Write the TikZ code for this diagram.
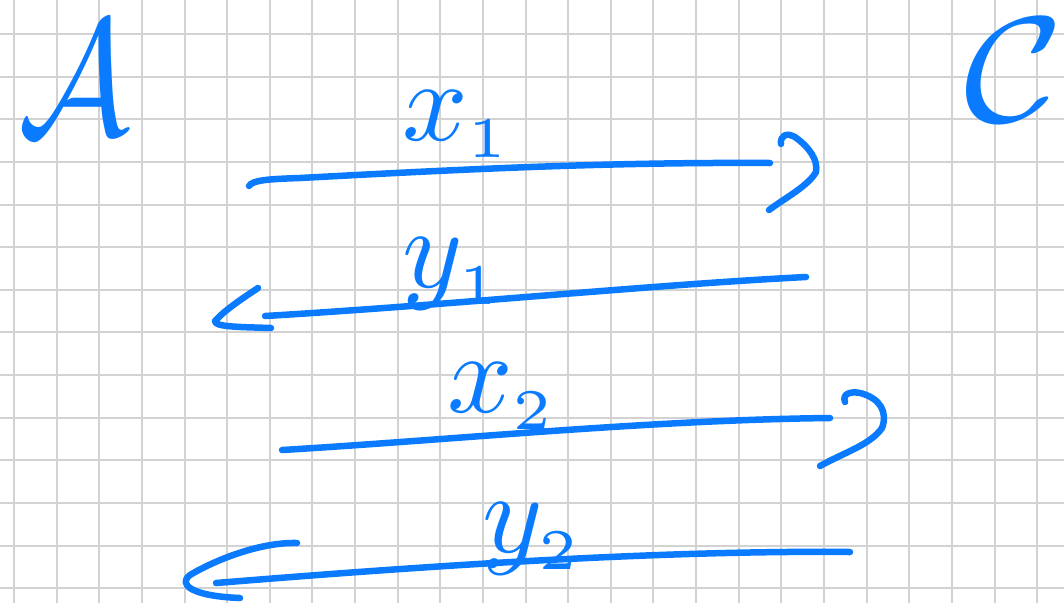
\documentclass[tikz,border=0pt]{standalone}
\usepackage{graphicx}
\usepackage{amsmath}
\definecolor{ink}{HTML}{0A7BFF}
\definecolor{gridgray}{HTML}{D2D2D2}
\tikzset{
  pen/.style={draw=ink, line width=6.5pt, line cap=round, line join=round},
  lbl/.style={text=ink, inner sep=0pt, anchor=base west, font=\normalsize},
  big/.style={text=ink, inner sep=0pt, font=\normalsize},
}
\begin{document}
\begin{tikzpicture}[x=1pt,y=-1pt]
\useasboundingbox (0,0) rectangle (1064,603);
\fill[white] (0,0) rectangle (1064,603);
% grid
\foreach \i in {0,...,24} {
  \draw[gridgray, line width=2pt] ({14+42.63*\i},0) -- ({14+42.63*\i},603);
}
\foreach \j in {0,...,13} {
  \draw[gridgray, line width=2pt] (0,{34+42.63*\j}) -- (1064,{34+42.63*\j});
}
% party labels
\node[big] (A) at (74,78) {\scalebox{14}[16.5]{$\mathcal{A}$}};
\node[big] (C) at (1014,70) {\scalebox{17}[15]{$\mathcal{C}$}};
% message labels
\node[lbl] (x1) at (402,140) {\scalebox{11.5}{$x_{\scriptscriptstyle 1}$}};
\node[lbl] (y1) at (402,287) {\scalebox{11.5}{$y_{\scriptscriptstyle 1}$}};
\node[lbl] (x2) at (447,412) {\scalebox{11.5}{$x_{\scriptscriptstyle 2}$}};
\node[lbl] (y2) at (482,552) {\scalebox{11.5}{$y_{\scriptscriptstyle 2}$}};
% arrow endpoints
\coordinate (a1s) at (249,186);
\coordinate (a1e) at (770,163);
\coordinate (a2s) at (806,277);
\coordinate (a2e) at (265,316);
\coordinate (a3s) at (282,450);
\coordinate (a3e) at (830,418);
\coordinate (a4s) at (850,552);
\coordinate (a4e) at (216,583);
% arrow 1 (A -> C)
\draw[pen] (a1s) .. controls (252,180) and (270,179) .. (300,178)
  .. controls (450,170) and (600,162) .. (a1e);
\draw[pen] (781,144) .. controls (780,136) and (786,132) .. (795,137)
  .. controls (810,148) and (818,160) .. (816,172)
  .. controls (808,186) and (785,198) .. (769,210);
% arrow 2 (C -> A)
\draw[pen] (a2s) .. controls (650,285) and (450,305) .. (a2e);
\draw[pen] (258,288) .. controls (240,300) and (225,310) .. (215,321)
  .. controls (214,327) and (240,327) .. (271,328);
% arrow 3 (A -> C)
\draw[pen] (a3s) .. controls (450,440) and (650,420) .. (a3e);
\draw[pen] (845,402) .. controls (842,394) and (850,391) .. (860,393)
  .. controls (880,398) and (888,412) .. (882,428)
  .. controls (870,445) and (845,452) .. (820,466);
% arrow 4 (C -> A)
\draw[pen] (a4s) .. controls (650,550) and (400,568) .. (a4e);
\draw[pen] (297,543) .. controls (260,542) and (215,560) .. (190,575)
  .. controls (178,584) and (190,596) .. (240,598);
\end{tikzpicture}
\end{document}
